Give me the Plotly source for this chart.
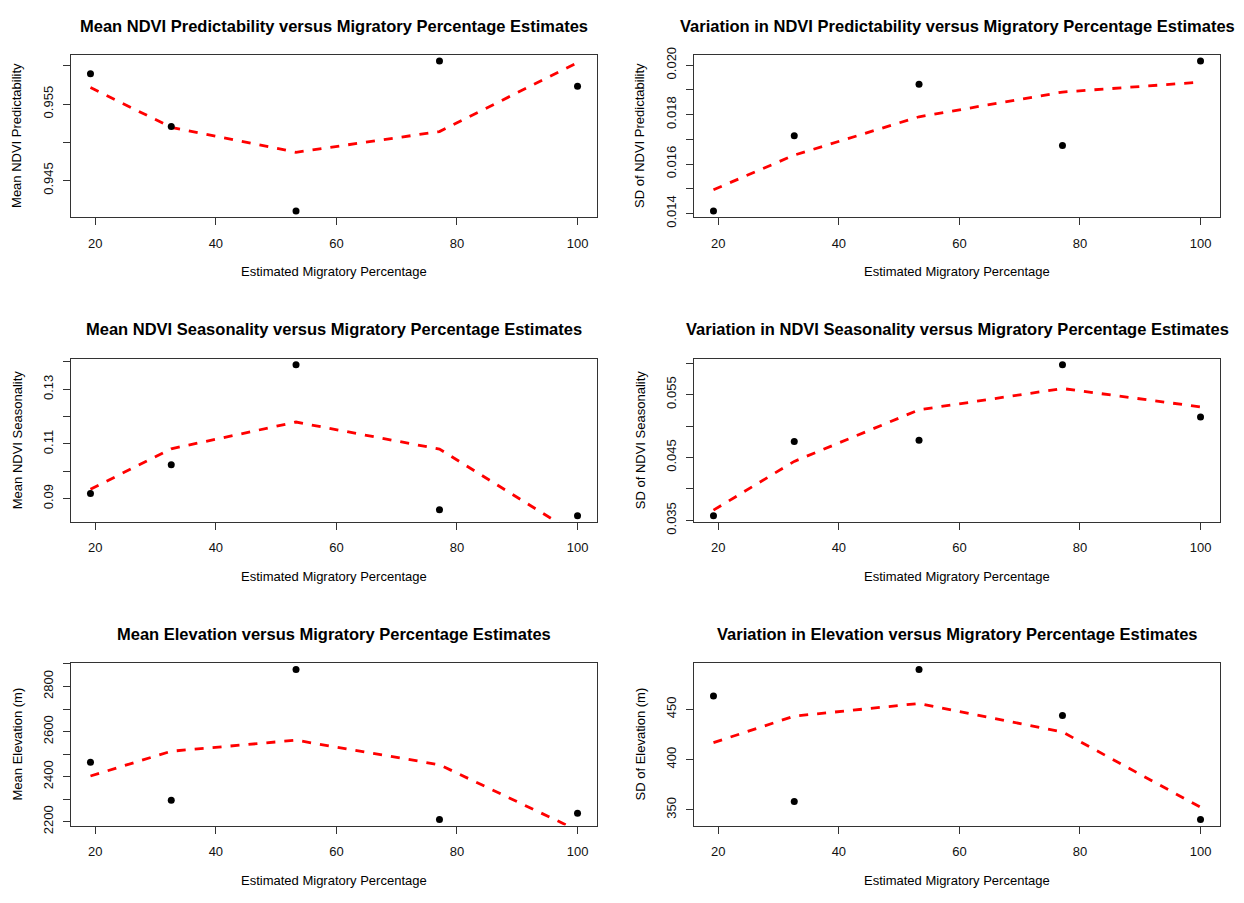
import plotly.graph_objects as go

# ---------------- data ----------------
migratory_pct = [19.2, 32.6, 53.3, 77.1, 100.0]

mean_ndvi_pred = [0.95898, 0.95207, 0.94100, 0.96065, 0.95734]
mean_ndvi_pred_fit = [0.95717, 0.95195, 0.94869, 0.95140, 0.96043]

sd_ndvi_pred = [0.01410, 0.01714, 0.01923, 0.01675, 0.02017]
sd_ndvi_pred_fit = [0.01496, 0.01636, 0.01791, 0.01891, 0.01931]

mean_ndvi_seas = [0.0918, 0.1024, 0.1390, 0.0859, 0.0837]
mean_ndvi_seas_fit = [0.0934, 0.1082, 0.1180, 0.1081, 0.0767]

sd_ndvi_seas = [0.03574, 0.04754, 0.04774, 0.05975, 0.05144]
sd_ndvi_seas_fit = [0.03663, 0.04438, 0.05258, 0.05596, 0.05304]

mean_elev = [2464, 2296, 2876, 2210, 2238]
mean_elev_fit = [2403, 2513, 2562, 2453, 2162]

sd_elev = [463.3, 358.3, 489.7, 443.9, 340.3]
sd_elev_fit = [416.8, 443.2, 455.8, 427.4, 352.5]

titles = [
    "Mean NDVI Predictability versus Migratory Percentage Estimates",
    "Variation in NDVI Predictability versus Migratory Percentage Estimates",
    "Mean NDVI Seasonality versus Migratory Percentage Estimates",
    "Variation in NDVI Seasonality versus Migratory Percentage Estimates",
    "Mean Elevation versus Migratory Percentage Estimates",
    "Variation in Elevation versus Migratory Percentage Estimates",
]
y_titles = [
    "Mean NDVI Predictability",
    "SD of NDVI Predictability",
    "Mean NDVI Seasonality",
    "SD of NDVI Seasonality",
    "Mean Elevation (m)",
    "SD of Elevation (m)",
]
x_title = "Estimated Migratory Percentage"

x_ticks = [20, 40, 60, 80, 100]
y_ticks = [
    [0.945, 0.950, 0.955, 0.960],
    [0.014, 0.015, 0.016, 0.017, 0.018, 0.019, 0.020],
    [0.09, 0.10, 0.11, 0.12, 0.13, 0.14],
    [0.035, 0.040, 0.045, 0.050, 0.055, 0.060],
    [2200, 2300, 2400, 2500, 2600, 2700, 2800, 2900],
    [350, 400, 450],
]
y_tick_labels = [
    ["0.945", "", "0.955", ""],
    ["0.014", "", "0.016", "", "0.018", "", "0.020"],
    ["0.09", "", "0.11", "", "0.13", ""],
    ["0.035", "", "0.045", "", "0.055", ""],
    ["2200", "", "2400", "", "2600", "", "2800", ""],
    ["350", "400", "450"],
]

points = [mean_ndvi_pred, sd_ndvi_pred, mean_ndvi_seas, sd_ndvi_seas, mean_elev, sd_elev]
fits = [mean_ndvi_pred_fit, sd_ndvi_pred_fit, mean_ndvi_seas_fit, sd_ndvi_seas_fit,
        mean_elev_fit, sd_elev_fit]

# ---------------- layout geometry (pixels) ----------------
W, H = 1244, 903
col_px = [(71, 597), (694, 1220)]
row_px = [(48, 214), (359, 526), (671, 837)]

FONT = "Liberation Sans, Arial, Helvetica, sans-serif"
AX = "#333333"


def r_range(v):
    lo, hi = min(v), max(v)
    d = 0.04 * (hi - lo)
    return [lo - d, hi + d]


fig = go.Figure()
layout = dict(
    width=W, height=H,
    margin=dict(l=0, r=0, t=0, b=0),
    paper_bgcolor="white", plot_bgcolor="white",
    showlegend=False,
    font=dict(family=FONT, size=13, color="black"),
)
annotations = []

for i in range(6):
    r, c = divmod(i, 2)
    n = i + 1
    xs = "" if n == 1 else str(n)
    x0, x1 = col_px[c]
    y0, y1 = row_px[r]
    xdom = [x0 / W, x1 / W]
    ydom = [1 - y1 / H, 1 - y0 / H]

    fig.add_trace(go.Scatter(
        x=migratory_pct, y=fits[i], mode="lines",
        line=dict(color="#ff0000", width=2.8, dash="9px,9px"),
        xaxis="x" + xs, yaxis="y" + xs, hoverinfo="skip"))
    fig.add_trace(go.Scatter(
        x=migratory_pct, y=points[i], mode="markers",
        marker=dict(color="black", size=7),
        xaxis="x" + xs, yaxis="y" + xs))

    layout["xaxis" + xs] = dict(
        domain=xdom, anchor="y" + xs, range=r_range(migratory_pct),
        tickvals=x_ticks, ticktext=[str(t) for t in x_ticks],
        ticks="outside", ticklen=7, tickwidth=1, tickcolor=AX,
        showline=True, linecolor=AX, linewidth=1, mirror=True,
        showgrid=False, zeroline=False, ticklabelstandoff=7,
        tickfont=dict(family=FONT, size=13, color="#111111"))
    layout["yaxis" + xs] = dict(
        domain=ydom, anchor="x" + xs, range=r_range(points[i]),
        tickvals=y_ticks[i], ticktext=y_tick_labels[i], tickangle=-90,
        ticks="outside", ticklen=7, tickwidth=1, tickcolor=AX,
        showline=True, linecolor=AX, linewidth=1, mirror=True,
        showgrid=False, zeroline=False, ticklabelstandoff=5,
        tickfont=dict(family=FONT, size=13, color="#111111"))

    cx = (x0 + x1) / 2 / W
    annotations.append(dict(
        text="<b>" + titles[i] + "</b>", x=cx, y=1 - (y0 - 30) / H,
        xref="paper", yref="paper", xanchor="center", yanchor="middle",
        showarrow=False, font=dict(family=FONT, size=16.5, color="black")))
    annotations.append(dict(
        text=x_title, x=cx, y=1 - (y1 + 56) / H,
        xref="paper", yref="paper", xanchor="center", yanchor="middle",
        showarrow=False, font=dict(family=FONT, size=13, color="black")))
    annotations.append(dict(
        text=y_titles[i], x=(x0 - 54) / W, y=1 - (y0 + y1) / 2 / H,
        xref="paper", yref="paper", xanchor="center", yanchor="middle",
        textangle=-90, showarrow=False,
        font=dict(family=FONT, size=13, color="black")))

layout["annotations"] = annotations
fig.update_layout(**layout)
fig.write_html("out.html", config={"displayModeBar": False},
               post_script="document.body.style.margin='0';")
